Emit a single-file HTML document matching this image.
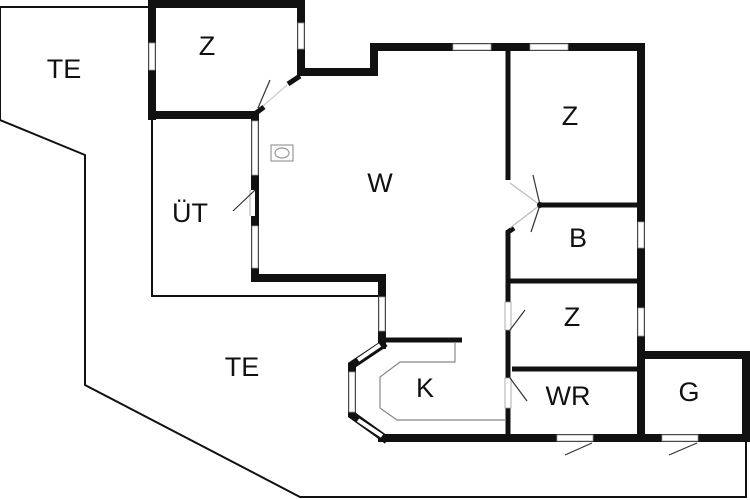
<!DOCTYPE html>
<html><head><style>
html,body{margin:0;padding:0;background:#fff;width:750px;height:500px;overflow:hidden}
text{font-family:"Liberation Sans",sans-serif;font-size:27px;fill:#111}
</style></head><body>
<svg width="750" height="500" viewBox="0 0 750 500" xmlns="http://www.w3.org/2000/svg">
<g fill="none" stroke="#111" stroke-width="2">
<polyline points="150,7 0,7 0,120 85,155 85,385 300,497 746,497 746,438"/>
<polyline points="152,118 152,296 380,296"/>
</g>
<g stroke="#111" stroke-width="8" fill="none" stroke-linecap="square">
<line x1="152" y1="3" x2="152" y2="116"/>
<line x1="152" y1="4" x2="301" y2="4"/>
<line x1="301" y1="4" x2="301" y2="72"/>
<polyline points="301,72 374,72 374,47 641,47"/>
<line x1="152" y1="115" x2="255" y2="115"/>
<line x1="255" y1="115" x2="255" y2="278"/>
<polyline points="255,278 382,278 382,345"/>
<line x1="641" y1="47" x2="641" y2="438"/>
<line x1="382" y1="438" x2="746" y2="438"/>
<polyline points="641,355 746,355 746,438"/>
<polyline points="382,345 352,365 352,415 384,438"/>
</g>
<g stroke="#111" stroke-width="5" fill="none">
<line x1="508" y1="47" x2="508" y2="180"/>
<polyline points="514,228 508,232 508,438"/>
<line x1="540" y1="205" x2="638" y2="205"/>
<line x1="508" y1="281" x2="638" y2="281"/>
<line x1="512" y1="369" x2="638" y2="369"/>
<line x1="382" y1="340" x2="462" y2="340"/>
<line x1="300" y1="76" x2="288" y2="84"/>
<line x1="256" y1="113" x2="264" y2="107"/>
</g>
<g fill="#fff" stroke="#999" stroke-width="0.8">
<rect x="149" y="43" width="6" height="27"/>
<rect x="298" y="23" width="6" height="26"/>
<rect x="453" y="44" width="38" height="6"/>
<rect x="530" y="44" width="38" height="6"/>
<rect x="252" y="121" width="6" height="54"/>
<rect x="252" y="226" width="6" height="42"/>
<rect x="379" y="297" width="6" height="34"/>
<rect x="638" y="222" width="6" height="26"/>
<rect x="638" y="308" width="6" height="28"/>
<rect x="505" y="302" width="6" height="28"/>
<rect x="505" y="378" width="6" height="30"/>
<rect x="557" y="435" width="36" height="6"/>
<rect x="662" y="435" width="36" height="6"/>
<rect x="349" y="372" width="6" height="40"/>
</g>
<g stroke="#fff" stroke-width="4">
<line x1="358" y1="360" x2="380" y2="345"/>
<line x1="358" y1="420" x2="382" y2="436"/>
<line x1="253" y1="190" x2="253" y2="216"/>
</g>
<g stroke="#333" stroke-width="1.2" fill="none">
<line x1="270" y1="80" x2="258" y2="108"/>
<line x1="263" y1="106" x2="287" y2="85" stroke="#ccc"/>
<line x1="250" y1="190" x2="250" y2="216" stroke="#bbb"/>
<line x1="255" y1="190" x2="233" y2="211"/>
<line x1="533" y1="175" x2="540" y2="205"/>
<line x1="540" y1="205" x2="531" y2="232"/>
<line x1="510" y1="330" x2="525" y2="310"/>
<line x1="510" y1="378" x2="527" y2="401"/>
<line x1="565" y1="455" x2="592" y2="443"/>
<line x1="669" y1="455" x2="697" y2="443"/>
<line x1="510" y1="183" x2="540" y2="205" stroke="#bbb"/>
<line x1="510" y1="228" x2="540" y2="205" stroke="#bbb"/>
<polyline points="455,342 455,362 400,362 380,377 380,408 397,420 505,420" stroke="#888"/>
<rect x="271" y="145" width="22" height="16" stroke="#999"/>
<ellipse cx="282" cy="153" rx="7" ry="5" stroke="#999"/>
</g>
<circle cx="540" cy="205" r="3" fill="#111"/>
<text x="207" y="55" text-anchor="middle">Z</text>
<text x="64" y="78" text-anchor="middle">TE</text>
<text x="380" y="192" text-anchor="middle">W</text>
<text x="190" y="222" text-anchor="middle">ÜT</text>
<text x="570" y="125" text-anchor="middle">Z</text>
<text x="578" y="247" text-anchor="middle">B</text>
<text x="572" y="326" text-anchor="middle">Z</text>
<text x="242" y="376" text-anchor="middle">TE</text>
<text x="425" y="397" text-anchor="middle">K</text>
<text x="568" y="405" text-anchor="middle">WR</text>
<text x="689" y="401" text-anchor="middle">G</text>
</svg>
</body></html>
